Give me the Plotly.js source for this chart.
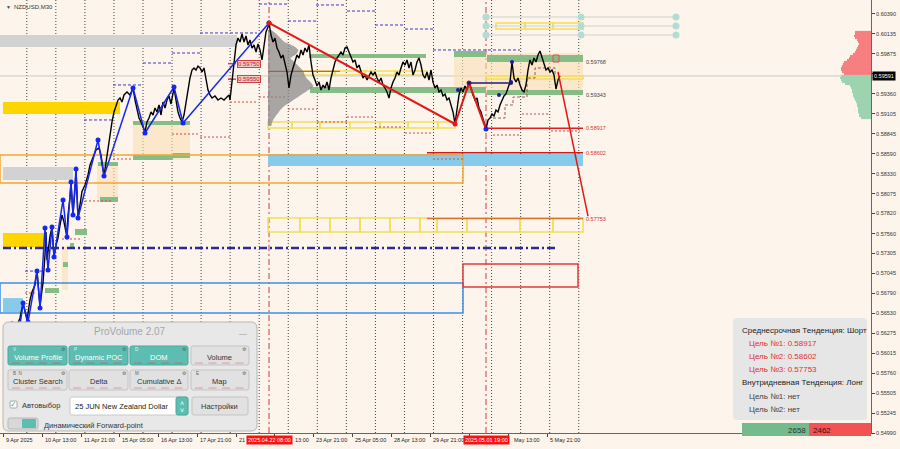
<!DOCTYPE html>
<html><head><meta charset="utf-8">
<script src="https://cdn.plot.ly/plotly-3.0.1.min.js"></script>
<style>html,body{margin:0;padding:0;background:#fdf5ec;}#chart{width:900px;height:449px;}</style>
</head><body><div id="chart"></div>
<script>
// ================= DATA =================
const symbol = 'NZDUSD,M30';
const priceX = [8,12,16,20,23,25,27,30,32,35,37,39,40,42,43,45,46,47,49,50,52,54,56,58,60,62,64,67,68,70,71,73,75,76,78,80,82,85,88,90,93,96,99,101,104,106,108,110,112,114,116,118,120,122,124,127,130,133,135,137,139,141,143,145,147,149,151,153,155,157,159,161,163,165,167,169,171,173,174,176,178,180,182,184,186,188,190,192,194,196,198,200,202,204,206,208,210,212,215,218,221,224,227,229,230,232,234,236,238,240,242,244,246,248,250,252,254,256,258,260,262,264,266,268,269,
271,273,275,277,279,281,283,285,287,289,291,293,295,297,299,301,303,305,307,309,311,313,315,317,319,321,323,325,327,329,331,333,335,337,339,341,343,345,347,349,351,353,355,357,359,361,363,365,367,369,371,373,375,377,379,381,383,385,387,389,391,393,395,397,399,401,403,405,407,409,411,413,415,417,419,421,423,425,427,429,431,433,435,437,439,441,443,445,447,449,451,453,455,457,459,461,463,465,467,469,471,473,475,477,479,481,483,485,486,488,490,492,494,496,498,500,502,504,506,508,510,512,514,516,518,520,522,524,526,528,530,532,534,536,538,540,542,544,546,548,550,552,554,556,558,560];
const priceY = [0.56317,0.56420,0.56343,0.56472,0.56665,0.56549,0.56446,0.56704,0.56807,0.56897,0.57077,0.56768,0.56626,0.56832,0.56923,0.57284,0.57580,0.57219,0.57412,0.57528,0.57644,0.57257,0.57412,0.57503,0.57670,0.57799,0.57709,0.57516,0.57799,0.58018,0.58212,0.57812,0.58121,0.58379,0.57760,0.57928,0.58102,0.58186,0.58315,0.58444,0.58534,0.58637,0.58663,0.58572,0.58302,0.58482,0.58663,0.58830,0.58998,0.59127,0.59204,0.59281,0.59307,0.59255,0.59346,0.59384,0.59346,0.59436,0.59281,0.59178,0.59049,0.58998,0.58920,0.58869,0.58998,0.59049,0.59127,0.59088,0.59178,0.59127,0.59217,0.59088,0.59255,0.59178,0.59281,0.59333,0.59230,0.59384,0.59436,0.59281,0.59127,0.59049,0.58998,0.59088,0.59255,0.59410,0.59565,0.59668,0.59694,0.59668,0.59719,0.59694,0.59642,0.59694,0.59539,0.59410,0.59346,0.59307,0.59333,0.59281,0.59307,0.59281,0.59320,0.59346,0.59281,0.59539,0.59797,0.59990,0.60080,0.60029,0.60132,0.60029,0.60106,0.59990,0.60055,0.59951,0.59990,0.59900,0.60003,0.59926,0.59797,0.59990,0.60158,0.60222,0.60274,
0.60119,0.60029,0.60080,0.59951,0.59900,0.59822,0.59861,0.59732,0.59642,0.59436,0.59603,0.59694,0.59797,0.59861,0.59822,0.59926,0.59861,0.59951,0.59900,0.59990,0.59771,0.59603,0.59539,0.59462,0.59513,0.59410,0.59474,0.59436,0.59513,0.59410,0.59565,0.59668,0.59771,0.59822,0.59861,0.59900,0.59861,0.59951,0.59964,0.59900,0.59822,0.59771,0.59797,0.59694,0.59732,0.59642,0.59565,0.59603,0.59539,0.59591,0.59642,0.59603,0.59642,0.59565,0.59513,0.59565,0.59474,0.59436,0.59384,0.59307,0.59436,0.59513,0.59565,0.59642,0.59603,0.59694,0.59771,0.59732,0.59797,0.59694,0.59771,0.59603,0.59668,0.59771,0.59822,0.59732,0.59603,0.59565,0.59642,0.59539,0.59668,0.59513,0.59436,0.59474,0.59384,0.59410,0.59333,0.59359,0.59281,0.59307,0.59217,0.59127,0.58972,0.59178,0.59346,0.59436,0.59384,0.59462,0.59410,0.59500,0.59436,0.59346,0.59281,0.59307,0.59178,0.59127,0.59049,0.58972,0.58907,0.59023,0.59049,0.59101,0.59075,0.59152,0.59127,0.59217,0.59281,0.59333,0.59359,0.59436,0.59513,0.59771,0.59565,0.59513,0.59565,0.59474,0.59410,0.59384,0.59474,0.59668,0.59797,0.59732,0.59822,0.59771,0.59861,0.59913,0.59822,0.59732,0.59668,0.59694,0.59642,0.59668,0.59603,0.59423,0.59539,0.59591];
const zigBlueX = [20,23,28,37,40,45,48,52,54,63,67,71,73,76,78,98,104,133,145,174,183,269];
const zigBlueY = [0.56381,0.56665,0.56420,0.57077,0.56601,0.57632,0.57090,0.57644,0.57258,0.57992,0.57516,0.58224,0.57799,0.58392,0.57760,0.58766,0.58302,0.59436,0.58856,0.59449,0.58985,0.60274];
const zigRedX = [269,455,469,486];
const zigRedY = [0.60274,0.58972,0.59500,0.58907];
const projX = [558,588];
const projY = [0.59642,0.57786];
const navyDotX = [458,499,511,512];
const navyDotY = [0.59410,0.59346,0.59513,0.59771];
const stairX = [493,505,505,513,513,527,527,535,535,555,555];
const stairY = [0.59049,0.59049,0.59217,0.59217,0.59320,0.59320,0.59565,0.59565,0.59694,0.59694,0.59603];
const profLevels = [0.60183,0.60132,0.60080,0.60029,0.59977,0.59926,0.59874,0.59822,0.59771,0.59720,0.59668,0.59616,0.59565,0.59514,0.59462,0.59410,0.59359,0.59307,0.59255,0.59204,0.59153,0.59101,0.59049,0.58998,0.58946];
const profVol = [3,8,12,16,25,30,28,22,26,30,34,36,38,42,45,40,34,28,22,16,12,9,6,4,3];
const domLevels = [0.60158,0.60132,0.60106,0.60080,0.60055,0.60029,0.60003,0.59977,0.59951,0.59926,0.59900,0.59874,0.59848,0.59822,0.59797,0.59771,0.59745,0.59719,0.59694,0.59668,0.59642,0.59616,0.59591,0.59565,0.59539,0.59513,0.59487,0.59462,0.59436,0.59410,0.59384,0.59359,0.59333,0.59307,0.59281,0.59255,0.59230,0.59204,0.59178,0.59152,0.59127,0.59101,0.59075,0.59049];
const domVol = [16,16,17,16,14,13,12,13,14,15,16,18,21,22,24,27,28,29,30,30,29,27,30,31,30,29,26,21,20,19,19,18,18,17,16,15,14,14,13,13,13,12,12,10];
const yTicks = [0.60390,0.60135,0.59875,0.59620,0.59360,0.59105,0.58845,0.58590,0.58330,0.58075,0.57820,0.57560,0.57305,0.57045,0.56790,0.56530,0.56275,0.56015,0.55760,0.55505,0.55245,0.54990];
const xTickPos = [3,42,81,119,158,197,236,274,313,352,391,430,469,508,547];
// visible parts of the time labels (the rest is hidden behind the red time markers)
const xTickText = ['9 Apr 2025','10 Apr 13:00','11 Apr 21:00','15 Apr 05:00','16 Apr 13:00','17 Apr 21:00','21','13:00','23 Apr 21:00','25 Apr 05:00','28 Apr 13:00','29 Apr 21:00','','May 13:00','5 May 21:00'];
const xTickShift = [0,0,0,0,0,0,0,18,0,0,0,0,0,3,0];
const markedTimes = [[269,'2025.04.22 08:00'],[486,'2025.05.01 19:00']];
const lastPrice = 0.59591;
const targets = [0.58917,0.58602,0.57753];
const rangeHigh = 0.59768, rangeLow = 0.59343;
const redTags = [0.59750,0.59550];
const buyVol = 2658, sellVol = 2462;
// zones: [x0,x1,priceTop,priceBottom]
const grayZones = [[0,237,0.60119,0.59964],[3,73,0.58418,0.58250]];
const goldZones = [[3,120,0.59255,0.59101],[3,45,0.57567,0.57387]];
const skyZones = [[3,23,0.56729,0.56549],[268,583,0.58585,0.58431]];
const beigeZones = [[133,190,0.58998,0.58508],[97,118,0.58482,0.57967],[62,68,0.57387,0.56832],[454,583,0.59887,0.59371]];
const greenZones = [[133,173,0.58572,0.58508],[173,190,0.58598,0.58534],[133,190,0.59011,0.58959],[98,118,0.58482,0.58431],[100,118,0.58031,0.57967],[75,87,0.57619,0.57541],[70,74,0.57438,0.57387],[63,68,0.57193,0.57129],[45,59,0.56858,0.56794],[309,426,0.59874,0.59822],[310,486,0.59449,0.59371],[454,486,0.59913,0.59835],[487,583,0.59861,0.59771],[487,583,0.59410,0.59346]];
const yellowRows = [[[268,292,320,350,380,408,438,455],0.58998,0.58920],[[303,335,365,395,427],0.59655,0.59603],[[268,300,330,360,390,420,437,467,520,553,583],0.57760,0.57580],[[496,525,553,583],0.60274,0.60196],[[486,583],0.59591,0.59552]];
const orangeBox = [0,463,0.58572,0.58212];
const blueBox = [0,463,0.56923,0.56537];
const redBox = [463,578,0.57168,0.56871];
const navyLevel = [3,557,0.57374];
const navyDaily = [[84,113,0.59024],[113,143,0.59475],[143,172,0.59758],[172,200,0.59887],[200,257,0.60145],[259,287,0.60518],[288,317,0.60299],[316,345,0.60506],[347,375,0.60428],[375,403,0.60248],[405,433,0.60196],[433,520,0.59926],[25,43,0.57077]];
const redDaily = [[172,200,0.58843],[200,230,0.58804],[230,258,0.59255],[259,287,0.59320],[288,317,0.59165],[317,347,0.58998],[347,375,0.59062],[375,403,0.58933],[405,433,0.58856],[493,520,0.58830],[522,548,0.59101],[551,580,0.58882],[433,463,0.58521],[25,37,0.56794],[62,82,0.57490],[85,112,0.57980],[113,133,0.58521]];
const fiboLevels = [0.60351,0.60235,0.60119];
const fiboX = [486,581,676];
const navyBridge = [469,511,0.59500];
const pocLine = [268,340,0.59650];
const profileStart = 268;
const infoLines = [['Среднесрочная Тенденция: Шорт','#222',740],['Цель №1: 0.58917','#e03030',747],['Цель №2: 0.58602','#e03030',747],['Цель №3: 0.57753','#e03030',747],['Внутридневная Тенденция: Лонг','#222',740],['Цель №1: нет','#444',747],['Цель №2: нет','#444',747]];
const buttons = [['Volume Profile',true,'V'],['Dynamic POC',true,'P'],['DOM',true,'D'],['Volume',false,''],['Cluster Search',false,'B  N'],['Delta',false,''],['Cumulative Δ',false,'M'],['Map',false,'E']];

// ================= LAYOUT HELPERS =================
const FONT = '"Liberation Sans", Arial, sans-serif';
const BG = '#fdf5ec';
const PW = 871, PH = 433;
const fx = x => x / PW, fy = y => 1 - y / PH;
const shapes = [], ann = [];
function rr(x0,y0,x1,y1,r){
  const X=fx, Y=fy;
  return `M${X(x0+r)},${Y(y0)} L${X(x1-r)},${Y(y0)} Q${X(x1)},${Y(y0)} ${X(x1)},${Y(y0+r)} L${X(x1)},${Y(y1-r)} Q${X(x1)},${Y(y1)} ${X(x1-r)},${Y(y1)} L${X(x0+r)},${Y(y1)} Q${X(x0)},${Y(y1)} ${X(x0)},${Y(y1-r)} L${X(x0)},${Y(y0+r)} Q${X(x0)},${Y(y0)} ${X(x0+r)},${Y(y0)} Z`;
}
function box(x0,y0,x1,y1,r,fill,lc,lw){shapes.push({type:'path',xref:'paper',yref:'paper',path:rr(x0,y0,x1,y1,r),fillcolor:fill,line:{color:lc||'rgba(0,0,0,0)',width:lw||0},layer:'above'});}
function txt(x,y,t,size,color,anchor,extra){ann.push(Object.assign({xref:'paper',yref:'paper',x:fx(x),y:fy(y),text:t,showarrow:false,xanchor:anchor||'left',yanchor:'middle',font:{family:FONT,size:size,color:color}},extra||{}));}
function zone(z,fill,line){shapes.push({type:'rect',xref:'x',yref:'y',x0:z[0],x1:z[1],y0:z[2],y1:z[3],fillcolor:fill,line:line||{width:0},layer:'below'});}
function hline(x0,x1,p,color,width,dash){shapes.push({type:'line',xref:'x',yref:'y',x0:x0,x1:x1,y0:p,y1:p,line:{color:color,width:width,dash:dash||'solid'},layer:'below'});}

for(let k=0;k<20;k++){const x=26.8+29.05*k;shapes.push({type:'line',xref:'x',yref:'paper',x0:x,x1:x,y0:0,y1:1,line:{color:'#444',width:1,dash:'1px,2px'},layer:'below'});}
hline(0,871,lastPrice,'#c9c9c9',1);
grayZones.forEach(z=>zone(z,'#d2d2d2'));
goldZones.forEach(z=>zone(z,'#ffd500'));
skyZones.forEach(z=>zone(z,'#86cbea'));
beigeZones.forEach(z=>zone(z,'rgba(250,222,180,0.6)'));
greenZones.forEach(z=>zone(z,'#86bd86'));
yellowRows.forEach(r=>{const xs=r[0];for(let i=0;i<xs.length-1;i++)zone([xs[i],xs[i+1],r[1],r[2]],'rgba(0,0,0,0)',{color:'#f2de5a',width:1.5});});
zone(orangeBox,'rgba(0,0,0,0)',{color:'#f2a531',width:1.5});
zone(blueBox,'rgba(0,0,0,0)',{color:'#3c8fe3',width:1.5});
zone(redBox,'rgba(0,0,0,0)',{color:'#e23a3a',width:1.5});
hline(navyLevel[0],navyLevel[1],navyLevel[2],'#2b2b96',2.5,'8px,3px,2px,3px');
navyDaily.forEach(d=>hline(d[0],d[1],d[2],'#3a3ac8',1,'3px,2px'));
redDaily.forEach(d=>hline(d[0],d[1],d[2],'#d04848',1,'2px,2px'));
fiboLevels.forEach(p=>hline(fiboX[0],fiboX[2],p,'#cfcfcf',1));
hline(486,583,targets[0],'#e02020',1.5);
hline(427,583,targets[1],'#d01818',1.5);
hline(427,583,targets[2],'#d8752a',1.5);
redTags.forEach(p=>hline(228,236,p,'#d04040',1.5));
markedTimes.forEach(m=>shapes.push({type:'line',xref:'x',yref:'paper',x0:m[0],x1:m[0],y0:0,y1:1,line:{color:'#e07a7a',width:1.5,dash:'6px,3px,2px,3px'},layer:'below'}));
shapes.push({type:'rect',xref:'x',yref:'y',x0:553,x1:559,y0:0.59861,y1:0.59771,fillcolor:'rgba(0,0,0,0)',line:{color:'#e05050',width:1},layer:'below'});

// ================= TRACES =================
const traces = [];
// session volume profile as a filled step area from its start time
traces.push({type:'scatter',mode:'lines',x:profLevels.map(()=>profileStart),y:profLevels,line:{width:0,color:'rgba(0,0,0,0)'},hoverinfo:'skip'});
traces.push({type:'scatter',mode:'lines',x:profVol.map(v=>profileStart+v),y:profLevels,line:{width:0.5,color:'rgba(120,120,120,0.6)',shape:'spline',smoothing:0.6},fill:'tonextx',fillcolor:'rgba(135,135,135,0.72)',hoverinfo:'skip'});
traces.push({type:'scatter',mode:'lines',x:[pocLine[0],pocLine[1]],y:[pocLine[2],pocLine[2]],line:{color:'rgba(170,70,60,0.8)',width:1.2},hoverinfo:'skip'});
traces.push({type:'bar',orientation:'h',y:domLevels,x:domVol.map(v=>-v),base:871,width:0.00028,marker:{color:domLevels.map(p=>p>lastPrice?'#f77f7f':'#9ed3b0'),line:{width:0}},hoverinfo:'skip'});
traces.push({type:'scatter',mode:'lines',x:stairX,y:stairY,line:{color:'rgba(150,60,60,0.85)',width:1,dash:'3px,2px'},hoverinfo:'skip'});
traces.push({type:'scatter',mode:'lines',x:priceX,y:priceY,line:{color:'#000',width:1.4},hoverinfo:'skip'});
traces.push({type:'scatter',mode:'lines+markers',x:zigBlueX,y:zigBlueY,line:{color:'#1428f0',width:1.5},marker:{color:'#1428f0',size:5},hoverinfo:'skip'});
traces.push({type:'scatter',mode:'lines+markers',x:zigRedX,y:zigRedY,line:{color:'#e41818',width:2},marker:{color:zigRedX.map((x,i)=>i===3?'#1428f0':'#e41818'),size:5},hoverinfo:'skip'});
traces.push({type:'scatter',mode:'lines',x:projX,y:projY,line:{color:'#e41818',width:1.5},hoverinfo:'skip'});
traces.push({type:'scatter',mode:'lines+markers',x:[navyBridge[0],navyBridge[1]],y:[navyBridge[2],navyBridge[2]],line:{color:'#1c1c7a',width:1.5},marker:{size:4,color:'#1c1c7a'},hoverinfo:'skip'});
traces.push({type:'scatter',mode:'markers',x:navyDotX,y:navyDotY,marker:{size:4,color:'#1c1c9a'},hoverinfo:'skip'});
fiboLevels.forEach(p=>traces.push({type:'scatter',mode:'markers',x:fiboX,y:fiboX.map(()=>p),marker:{size:7,color:'#b3dcd4'},hoverinfo:'skip'}));

// ================= ANNOTATIONS =================
txt(4,7,'▼',5,'#444','left');
txt(12,7,symbol,6,'#333','left');
xTickPos.forEach((x,i)=>{if(xTickText[i])txt(x+1+xTickShift[i],440,xTickText[i],5.5,'#222','left');});
markedTimes.forEach(m=>txt(m[0],440,m[1],5.5,'#fff','center',{bgcolor:'#ff1010',borderpad:1}));
const rlab=(p,t,c)=>ann.push({xref:'x',yref:'y',x:584,y:p,text:t,showarrow:false,xanchor:'left',yanchor:'middle',font:{family:FONT,size:5.5,color:c}});
rlab(rangeHigh,rangeHigh.toFixed(5),'#444');
rlab(rangeLow,rangeLow.toFixed(5),'#444');
targets.forEach(p=>rlab(p,p.toFixed(5),'#e03030'));
redTags.forEach(p=>ann.push({xref:'x',yref:'y',x:248.5,y:p,text:p.toFixed(5),showarrow:false,xanchor:'center',yanchor:'middle',bgcolor:'#f7cccc',bordercolor:'#d04040',borderwidth:1,borderpad:0,font:{family:FONT,size:6,color:'#b02020'}}));
ann.push({xref:'paper',yref:'y',x:1,xshift:1,y:lastPrice,text:lastPrice.toFixed(5),showarrow:false,xanchor:'left',yanchor:'middle',bgcolor:'#000',borderpad:1,font:{family:FONT,size:5.5,color:'#fff'}});

box(733,318,867,420,4,'#e6e6e6');
infoLines.forEach((l,i)=>txt(l[2],330+i*13.2,l[0],8,l[1],'left'));

const total = buyVol+sellVol, split = 742 + 129*buyVol/total;
shapes.push({type:'rect',xref:'paper',yref:'paper',x0:fx(742),x1:fx(split),y0:fy(436),y1:fy(423),fillcolor:'#73bb8c',line:{width:0},layer:'above'});
shapes.push({type:'rect',xref:'paper',yref:'paper',x0:fx(split),x1:fx(871),y0:fy(436),y1:fy(423),fillcolor:'#f25252',line:{width:0},layer:'above'});
txt(split-1,430,String(buyVol),8,'#333','right');
txt(split+2,430,String(sellVol),8,'#3a1010','left');

box(3,322,257,431,6,'#e8e8e8','#b5b5b5',1);
txt(130,331,'ProVolume 2.07',10,'#a6a6a6','center');
txt(243,333,'—',8,'#9a9a9a','center');
const colX=[[8,67],[69,128],[130,188],[191,249]], rowY=[[346,365],[370,390]];
buttons.forEach((b,i)=>{
  const c=colX[i%4], r=rowY[Math.floor(i/4)];
  box(c[0],r[0],c[1],r[1],2,b[1]?'#5dbdb1':'#e1e1e1',b[1]?'#4aa99c':'#c3c3c3',1);
  txt((c[0]+c[1])/2,r[0]+11,b[0],7.5,b[1]?'#fff':'#333','center');
  if(b[2])txt(c[0]+3,r[0]+3,b[2],4.5,b[1]?'#e8f6f4':'#666','left');
  txt(c[1]-4,r[0]+3,'⚙',5,b[1]?'#2f6f68':'#666','center');
  for(let s=0;s<4;s++){const sx=c[0]+4+s*13.5;shapes.push({type:'line',xref:'paper',yref:'paper',x0:fx(sx),x1:fx(sx+8),y0:fy(r[1]-2),y1:fy(r[1]-2),line:{color:b[1]?'rgba(200,90,90,0.7)':'rgba(210,110,110,0.6)',width:1},layer:'above'});}
});
box(10,401,17,408,1,'#fff','#a8a8a8',1);
txt(13.5,404,'✓',8,'#36a59a','center');
txt(20,405,'Автовыбор',7.5,'#333','left');
box(70,397,188,415,2,'#ffffff','#c8c8c8',1);
box(176,397,188,415,2,'#5dbdb1','#4aa99c',1);
txt(182,403,'˄',7,'#fff','center');
txt(182,410,'˅',7,'#fff','center');
txt(73,406,'25 JUN New Zealand Dollar',7.5,'#222','left');
box(192,397,248,415,2,'#e1e1e1','#c3c3c3',1);
txt(220,406,'Настройки',7.5,'#333','center');
box(8,418,38,429,2,'#d8d8d8','#b8b8b8',1);
box(22,419,36,428,1,'#5dbdb1');
txt(42,425,'Динамический Forward-point',7.5,'#333','left');

const layout = {
  width:900,height:449,margin:{l:0,r:29,t:0,b:16,pad:0},
  paper_bgcolor:BG,plot_bgcolor:BG,showlegend:false,barmode:'overlay',
  xaxis:{range:[0,871],automargin:false,showgrid:false,zeroline:false,showline:true,mirror:true,linecolor:'#666',linewidth:1,
    tickmode:'array',tickvals:xTickPos,ticks:'outside',ticklen:3,tickcolor:'#444',showticklabels:false,fixedrange:true},
  yaxis:{range:[0.54990,0.60570],side:'right',automargin:false,showgrid:false,zeroline:false,showline:true,mirror:true,linecolor:'#666',linewidth:1,
    tickmode:'array',tickvals:yTicks,ticktext:yTicks.map(v=>Math.abs(v-lastPrice)<0.0004?'':v.toFixed(5)),ticks:'outside',ticklen:3,tickcolor:'#444',
    tickfont:{family:FONT,size:5.5,color:'#333'},fixedrange:true},
  shapes:shapes,annotations:ann
};
Plotly.newPlot('chart',traces,layout,{displayModeBar:false,staticPlot:true});
</script></body></html>
